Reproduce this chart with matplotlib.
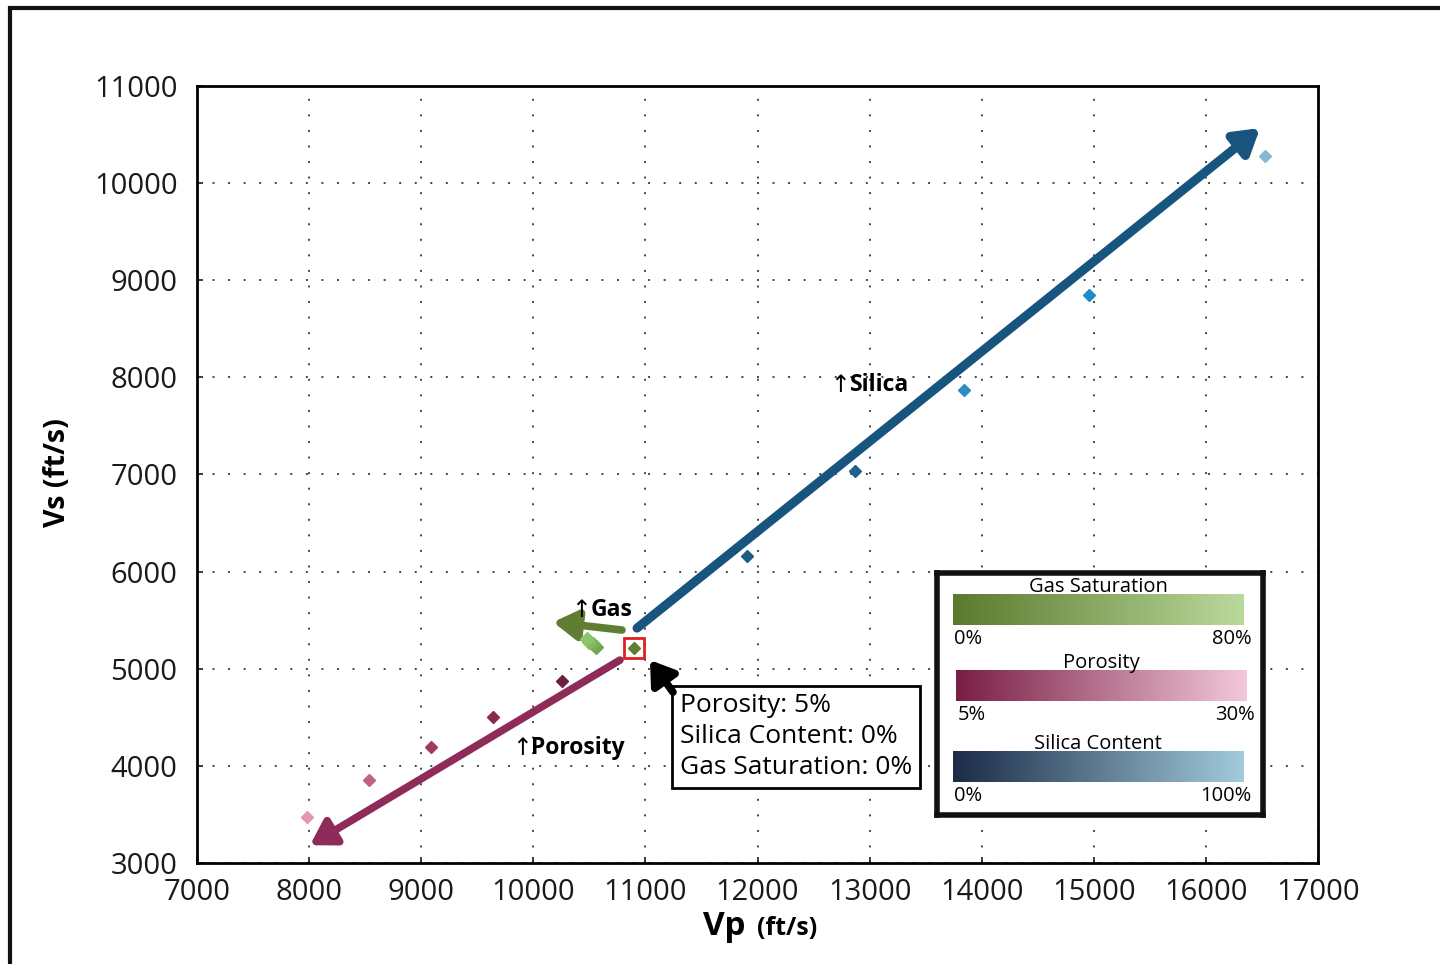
import numpy as np
import matplotlib.pyplot as plt
from matplotlib.colors import LinearSegmentedColormap
from matplotlib.patches import Rectangle

plt.rcParams['font.family'] = ['Open Sans', 'DejaVu Sans']

# points (ft/s)
silica_vp = [11906, 12870, 13842, 14957, 16527]
silica_vs = [6160, 7035, 7869, 8848, 10279]
silica_col = ['#1d5c88', '#1f5f8c', '#2a8cc0', '#1c8dc8', '#86b8d2']

poro_vp = [10256, 9640, 9087, 8534, 7981]
poro_vs = [4872, 4501, 4193, 3853, 3472]
poro_col = ['#6e1f3d', '#8a2a50', '#a23a64', '#c2608a', '#e496b5']

gas_vp = [10560, 10530, 10500, 10475]
gas_vs = [5225, 5250, 5280, 5305]
gas_col = ['#6fa64e', '#78b058', '#82ba62', '#8cc46c']

base_vp, base_vs = 10898, 5212

# trend arrows (start, end)
silica_arrow = [(10925, 5418), (16483, 10567)]
gas_arrow = [(10791, 5398), (10176, 5480)]
poro_arrow = [(10773, 5089), (8008, 3183)]

fig = plt.figure(figsize=(14.4, 9.64), dpi=100)
ax = fig.add_axes([0.1368, 0.1048, 0.7785, 0.806])

# outer frame
fig.patches.append(Rectangle((0.007, -0.1), 1.2, 1.0917, transform=fig.transFigure,
                             fill=False, edgecolor='#111111', lw=3, zorder=0))

ax.set_xlim(7000, 17000)
ax.set_ylim(3000, 11000)
ax.set_xticks(np.arange(7000, 17001, 1000))
ax.set_yticks(np.arange(3000, 11001, 1000))
ax.tick_params(labelsize=21, direction='in', length=4, width=1.2, colors='#1a1a1a')
ax.tick_params(axis='y', pad=14)
ax.tick_params(axis='x', pad=11)
ax.grid(True, linestyle=(0, (1, 7)), color='#444444', lw=1.4)
for s in ax.spines.values():
    s.set_linewidth(2)

# axis titles
fig.text(0.488, 0.030, 'Vp', fontsize=24, fontweight='bold', ha='left', va='baseline')
fig.text(0.526, 0.030, '(ft/s)', fontsize=18, fontweight='bold', ha='left', va='baseline')
fig.text(0.040, 0.510, 'Vs (ft/s)', fontsize=20.5, fontweight='bold', rotation=90,
         ha='center', va='center')

def trend(pts, color, lw):
    ax.annotate('', xy=pts[1], xytext=pts[0],
                arrowprops=dict(arrowstyle='-|>,head_length=0.9,head_width=0.55', lw=lw,
                                color=color, mutation_scale=16, shrinkA=0, shrinkB=0))

trend(silica_arrow, '#17557f', 6.5)
trend(gas_arrow, '#5f7d33', 5.5)
trend(poro_arrow, '#8f2b58', 5.5)

for x, y, c in zip(silica_vp, silica_vs, silica_col):
    ax.plot(x, y, 'D', ms=6, color=c, zorder=5)
for x, y, c in zip(poro_vp, poro_vs, poro_col):
    ax.plot(x, y, 'D', ms=6, color=c, zorder=5)
for x, y, c in zip(gas_vp, gas_vs, gas_col):
    ax.plot(x, y, 'D', ms=7, color=c, zorder=5)
ax.plot(base_vp, base_vs, 'D', ms=6, color='#5f7d33', zorder=5)
ax.plot(base_vp, base_vs, 's', ms=15, mfc='none', mec='#e02020', mew=2, zorder=6)

def arrow_label(x, y, word):
    ax.text(x, y, '↑', fontsize=17, va='center', ha='left', family=['DejaVu Sans'])
    ax.annotate(word, xy=(x, y), xytext=(14, 0), textcoords='offset points',
                fontsize=16.5, fontweight='bold', va='center', ha='left')

arrow_label(12650, 7921, 'Silica')
arrow_label(10340, 5600, 'Gas')
arrow_label(9810, 4182, 'Porosity')

# base case annotation
ax.text(11309, 4745, 'Porosity: 5%\nSilica Content: 0%\nGas Saturation: 0%',
        fontsize=19, va='top', ha='left', linespacing=1.3, zorder=7,
        bbox=dict(boxstyle='square,pad=0.3', fc='white', ec='black', lw=2))
ax.annotate('', xy=(11041, 5089), xytext=(11246, 4759),
            arrowprops=dict(arrowstyle='-|>,head_length=0.9,head_width=0.6', lw=5.5,
                            color='black', mutation_scale=15, shrinkA=0, shrinkB=0), zorder=8)

# legend box with gradient bars
lg = fig.add_axes([0.6507, 0.1546, 0.2264, 0.251])
lg.set_xticks([])
lg.set_yticks([])
for s in lg.spines.values():
    s.set_linewidth(4)
    s.set_color('#111111')

bars = [
    ('Gas Saturation', ['#5a7a2e', '#bad99c'], '0%', '80%', [0.6618, 0.3517, 0.2014, 0.0322]),
    ('Porosity', ['#791e45', '#f3c8da'], '5%', '30%', [0.6639, 0.2728, 0.2014, 0.0322]),
    ('Silica Content', ['#1b2b48', '#a2cbdc'], '0%', '100%', [0.6618, 0.1888, 0.2014, 0.0322]),
]
grad = np.linspace(0, 1, 256).reshape(1, -1)
for title, cols, lo, hi, rect in bars:
    cax = fig.add_axes(rect)
    cmap = LinearSegmentedColormap.from_list(title, cols)
    cax.imshow(grad, aspect='auto', cmap=cmap)
    cax.set_axis_off()
    x0, y0, w, h = rect
    fig.text(x0 + w / 2, y0 + h - 0.003, title, fontsize=14.5, ha='center', va='bottom')
    fig.text(x0 + 0.001, y0 - 0.004, lo, fontsize=14.5, ha='left', va='top')
    fig.text(x0 + w + 0.006, y0 - 0.004, hi, fontsize=14.5, ha='right', va='top')

fig.savefig('out.png', dpi=100)
